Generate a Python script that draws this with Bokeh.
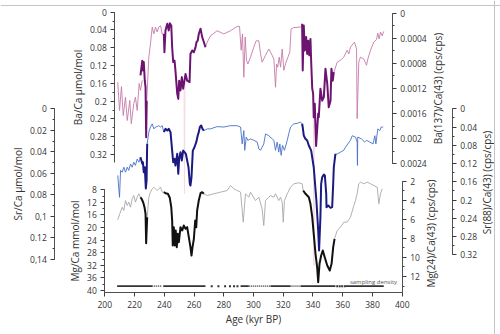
import math
from bokeh.plotting import figure
from bokeh.models import Range1d, LinearAxis, FixedTicker, Label, Span
from bokeh.embed import file_html
from bokeh.resources import INLINE

nan = float("nan")

# ---------------- data: (age kyr BP, value) ----------------
ba_cps_pts = [
    (208.7, 0.00110), (209.9, 0.00155), (211.2, 0.00117), (212.4, 0.00163), (213.9, 0.00134),
    (215.1, 0.00171), (216.8, 0.00139), (217.8, 0.00176), (219.5, 0.00144), (220.6, 0.00134),
    (221.8, 0.00155), (223.1, 0.00112), (224.0, 0.00123), (225.2, 0.00107),
    (nan, nan),
    (228.2, 0.00139), (229.6, 0.00070), (230.7, 0.00049), (231.9, 0.00022), (233.0, 0.00033),
    (234.1, 0.00022), (235.2, 0.00030), (236.3, 0.00022), (237.5, 0.00020), (238.6, 0.00033),
    (239.7, 0.00033),
    (nan, nan),
    (267.7, 0.00054), (268.9, 0.00046), (271.1, 0.00036), (275.6, 0.00028), (280.0, 0.00033),
    (284.5, 0.00028), (289.0, 0.00021), (290.6, 0.00021), (291.7, 0.00059), (292.6, 0.00033),
    (293.5, 0.00102), (294.4, 0.00038), (295.3, 0.00075), (296.2, 0.00081), (298.0, 0.00070),
    (300.2, 0.00054), (301.8, 0.00044), (303.6, 0.00044), (304.7, 0.00064), (305.8, 0.00078),
    (308.1, 0.00067), (310.3, 0.00057), (312.1, 0.00065), (313.7, 0.00073), (314.8, 0.00118),
    (315.5, 0.00081), (316.3, 0.00086), (317.3, 0.00070), (318.2, 0.00086), (319.3, 0.00057),
    (320.4, 0.00091), (321.5, 0.00081), (322.7, 0.00073), (324.4, 0.00062), (325.3, 0.00025),
    (327.1, 0.00023), (331.6, 0.00022), (332.7, 0.00021),
    (nan, nan),
    (354.0, 0.00094), (354.5, 0.00091), (356.3, 0.00078), (358.5, 0.00075), (360.7, 0.00070),
    (363.0, 0.00059), (364.1, 0.00065), (365.2, 0.00054), (367.9, 0.00046), (369.3, 0.00057),
    (369.7, 0.00168), (370.8, 0.00078), (371.9, 0.00070), (374.2, 0.00073), (376.0, 0.00083),
    (376.9, 0.00073), (378.7, 0.00059), (380.9, 0.00046), (382.7, 0.00042), (383.6, 0.00032),
    (384.5, 0.00041), (385.4, 0.00030), (386.5, 0.00036), (387.6, 0.00029),
]

ba_umol_pts = [
    (224.0, 0.142), (225.2, 0.109), (225.6, 0.131), (226.2, 0.112), (226.9, 0.154),
    (227.4, 0.169), (227.8, 0.281), (228.2, 0.199),
    (nan, nan),
    (239.7, 0.049), (240.1, 0.090), (240.8, 0.041), (242.0, 0.026), (243.0, 0.041),
    (243.7, 0.025), (244.7, 0.030), (245.3, 0.079), (246.0, 0.112), (246.9, 0.109),
    (247.5, 0.131), (248.7, 0.183), (249.4, 0.195), (250.0, 0.154), (250.9, 0.176),
    (251.8, 0.146), (252.7, 0.172), (254.3, 0.139), (255.4, 0.154), (257.0, 0.157),
    (257.6, 0.094), (258.8, 0.086), (259.9, 0.090), (261.0, 0.079), (261.7, 0.067),
    (262.5, 0.064), (263.2, 0.049), (264.4, 0.037), (265.5, 0.056), (266.6, 0.067),
    (267.7, 0.079),
    (nan, nan),
    (332.7, 0.026), (333.1, 0.131), (333.8, 0.030), (334.5, 0.086), (335.4, 0.056),
    (336.1, 0.094), (336.8, 0.064), (337.5, 0.097), (338.3, 0.060), (338.8, 0.112),
    (339.5, 0.172), (340.1, 0.183), (340.5, 0.236), (341.2, 0.206), (342.1, 0.301),
    (343.5, 0.228), (343.9, 0.236), (345.0, 0.172), (346.2, 0.199), (347.3, 0.191),
    (348.4, 0.127), (349.6, 0.161), (350.6, 0.214), (351.8, 0.199), (352.4, 0.127),
    (353.3, 0.154), (354.0, 0.135),
]

ba_faint_pts = [
    (253.3, 0.165), (253.6, 0.408), (253.9, 0.160),
    (nan, nan),
    (340.3, 0.225), (340.6, 0.570), (340.9, 0.230),
]

sr_cps_pts = [
    (208.7, 0.146), (209.9, 0.194), (210.6, 0.135), (211.7, 0.139), (212.8, 0.128),
    (213.9, 0.139), (215.1, 0.128), (216.1, 0.135), (217.3, 0.121), (218.4, 0.128),
    (219.5, 0.117), (220.6, 0.124), (221.8, 0.110), (222.9, 0.117), (224.0, 0.106),
    (nan, nan),
    (228.5, 0.077), (229.6, 0.051), (230.7, 0.040), (231.9, 0.033), (233.0, 0.044),
    (234.1, 0.040), (235.2, 0.039), (236.3, 0.037), (237.5, 0.040), (238.6, 0.037),
    (239.7, 0.051),
    (nan, nan),
    (266.6, 0.048), (268.9, 0.044), (271.1, 0.044), (275.6, 0.039), (280.0, 0.040),
    (284.5, 0.037), (289.0, 0.037), (291.3, 0.040), (292.4, 0.077), (293.5, 0.048),
    (294.1, 0.091), (295.1, 0.062), (296.2, 0.069), (298.0, 0.066), (300.2, 0.069),
    (302.5, 0.073), (303.6, 0.088), (304.7, 0.091), (306.9, 0.077), (308.1, 0.055),
    (310.3, 0.059), (312.6, 0.066), (313.7, 0.069), (314.8, 0.091), (315.9, 0.073),
    (317.0, 0.095), (317.7, 0.077), (318.6, 0.102), (319.5, 0.080), (320.8, 0.091),
    (322.7, 0.069), (323.7, 0.055), (324.9, 0.040), (327.1, 0.033), (329.4, 0.032),
    (331.6, 0.029), (332.7, 0.033),
    (nan, nan),
    (355.1, 0.099), (356.3, 0.099), (358.5, 0.095), (360.7, 0.091), (361.9, 0.084),
    (365.2, 0.069), (366.4, 0.059), (368.6, 0.062), (369.7, 0.073), (369.9, 0.124),
    (370.1, 0.062), (372.6, 0.066), (374.8, 0.073), (376.0, 0.069), (378.2, 0.073),
    (380.4, 0.077), (381.6, 0.059), (382.3, 0.077), (383.6, 0.044), (384.9, 0.048),
    (385.9, 0.040), (387.2, 0.040),
]

sr_umol_pts = [
    (224.0, 0.0450), (225.2, 0.0511), (225.6, 0.0496), (226.2, 0.0589), (226.9, 0.0543),
    (227.6, 0.0740), (228.1, 0.0666), (228.5, 0.0325),
    (nan, nan),
    (239.7, 0.0217), (240.8, 0.0186), (242.0, 0.0202), (243.0, 0.0186), (244.2, 0.0217),
    (245.3, 0.0388), (246.0, 0.0496), (246.9, 0.0465), (247.5, 0.0527), (248.7, 0.0418),
    (249.4, 0.0604), (250.0, 0.0465), (250.9, 0.0403), (251.8, 0.0480), (252.7, 0.0388),
    (253.6, 0.0403), (254.5, 0.0418), (255.4, 0.0480), (256.3, 0.0543), (257.2, 0.0697),
    (257.6, 0.0713), (258.3, 0.0636), (259.2, 0.0388), (260.3, 0.0357), (261.5, 0.0310),
    (262.5, 0.0248), (263.2, 0.0217), (263.9, 0.0171), (264.8, 0.0155), (265.7, 0.0186),
    (266.6, 0.0202),
    (nan, nan),
    (332.7, 0.0139), (333.1, 0.0171), (333.8, 0.0248), (334.9, 0.0279), (336.1, 0.0295),
    (337.2, 0.0341), (338.8, 0.0388), (340.5, 0.0543), (342.3, 0.0852), (343.5, 0.1131),
    (344.1, 0.1317), (345.0, 0.1007), (345.5, 0.0697), (346.2, 0.0636), (347.3, 0.0611),
    (348.0, 0.0620), (348.9, 0.0790), (349.1, 0.0914), (350.3, 0.0899), (351.8, 0.0920),
    (352.9, 0.0914), (353.6, 0.0697), (354.0, 0.0543), (355.1, 0.0418),
]

mg_cps_pts = [
    (208.7, 6.05), (210.1, 5.42), (211.7, 4.73), (212.8, 5.07), (213.9, 4.03),
    (215.1, 4.55), (216.1, 4.20), (217.3, 4.73), (218.4, 3.85), (219.5, 3.50),
    (220.6, 4.20), (221.8, 3.68), (222.9, 3.32), (224.0, 3.68),
    (nan, nan),
    (228.5, 5.78), (229.6, 3.68), (230.7, 3.15), (231.9, 2.80), (233.0, 2.63),
    (235.2, 2.98), (237.5, 2.63), (238.6, 3.15), (239.7, 3.15),
    (nan, nan),
    (266.6, 3.32), (268.9, 3.50), (273.3, 3.32), (277.8, 3.15), (282.3, 2.98),
    (284.5, 2.45), (286.8, 2.80), (291.3, 3.15), (293.1, 6.30), (294.6, 3.32),
    (296.8, 3.68), (298.0, 3.15), (301.3, 4.03), (303.6, 3.68), (305.8, 4.90),
    (306.9, 6.65), (308.1, 4.03), (310.3, 3.68), (311.4, 3.50), (313.7, 3.68),
    (314.8, 3.32), (317.0, 4.03), (318.2, 3.68), (319.3, 4.20), (320.0, 6.30),
    (320.8, 4.03), (322.7, 3.32), (324.9, 2.63), (327.1, 2.27), (330.5, 2.17),
    (332.7, 2.27), (333.4, 2.95),
    (nan, nan),
    (354.5, 8.04), (356.3, 7.17), (358.5, 6.83), (360.7, 6.30), (363.0, 6.30),
    (365.2, 5.78), (367.5, 4.55), (368.6, 4.03), (369.7, 3.32), (370.8, 2.27),
    (371.9, 2.10), (374.2, 2.27), (376.4, 2.10), (378.7, 2.27), (380.9, 2.45),
    (383.2, 2.63), (384.3, 4.37), (385.4, 3.32), (386.5, 2.80),
]

mg_mmol_pts = [
    (224.0, 10.35), (224.7, 10.86), (225.8, 11.94), (226.7, 13.53), (227.4, 15.63),
    (227.8, 24.97), (228.5, 16.71),
    (nan, nan),
    (239.7, 8.76), (240.8, 9.08), (242.4, 9.27), (243.7, 10.54), (244.7, 13.53),
    (245.3, 17.76), (245.7, 25.70), (246.4, 19.88), (247.1, 25.70), (247.7, 20.93),
    (248.4, 26.24), (249.1, 21.98), (249.8, 24.65), (250.9, 19.88), (252.1, 20.93),
    (253.1, 19.34), (254.3, 20.39), (255.4, 19.88), (256.5, 23.06), (257.6, 26.24),
    (258.3, 28.88), (259.0, 26.24), (259.9, 23.57), (260.8, 17.76), (261.5, 19.88),
    (262.1, 14.58), (263.2, 11.40), (264.4, 9.08), (265.5, 8.76), (266.6, 9.27),
    (nan, nan),
    (333.4, 8.22), (335.0, 9.27), (337.2, 10.35), (338.3, 12.45), (339.5, 16.71),
    (340.5, 21.98), (341.7, 28.34), (342.8, 32.60), (343.5, 37.36), (344.4, 31.51),
    (345.5, 28.88), (346.6, 27.29), (347.9, 29.42), (349.6, 32.05), (351.3, 33.64),
    (352.5, 31.51), (353.6, 26.24), (354.5, 23.57),
]

# sampling density (age intervals / single samples)
dense_start = [208.3, 239.3, 291.3, 311.4, 331.6, 361.9]
dense_end = [231.9, 267.7, 296.8, 324.9, 355.1, 387.6]
medium_start = [231.9, 296.8, 324.9]
medium_end = [238.6, 311.4, 331.6]
sparse_ages = [271.9, 276.4, 280.9, 284.2, 286.9, 289.2, 356.3, 358.0, 359.6, 361.4]

# ticks and tick labels
age_ticks = [200, 220, 240, 260, 280, 300, 320, 340, 360, 380, 400]
age_labels = ["200", "220", "240", "260", "280", "300", "320", "340", "360", "380", "400"]
ba_umol_ticks = [0, 0.04, 0.08, 0.12, 0.16, 0.2, 0.24, 0.28, 0.32]
ba_umol_labels = ["0", "0.04", "0.08", "0.12", "0.16", "0.2", "0.24", "0.28", "0.32"]
sr_umol_ticks = [0, 0.02, 0.04, 0.06, 0.08, 0.1, 0.12, 0.14]
sr_umol_labels = ["0", "0.02", "0.04", "0.06", "0.08", "0,1", "0.12", "0,14"]
mg_mmol_ticks = [8, 12, 16, 20, 24, 28, 32, 36, 40]
mg_mmol_labels = ["8", "12", "16", "20", "24", "28", "32", "36", "40"]
ba_cps_ticks = [0, 0.0004, 0.0008, 0.0012, 0.0016, 0.002, 0.0024]
ba_cps_labels = ["0", "0.0004", "0.0008", "0.0012", "0.0016", "0.002", "0.0024"]
sr_cps_ticks = [0, 0.04, 0.08, 0.12, 0.16, 0.2, 0.24, 0.28, 0.32]
sr_cps_labels = ["0", "0.04", "0.08", "0.12", "0.16", "0.2", "0.24", "0.28", "0.32"]
mg_cps_ticks = [2, 4, 6, 8, 10, 12]
mg_cps_labels = ["2", "4", "6", "8", "10", "12"]

# ---------------- layout (page pixels) ----------------
W, H = 500, 334
OX, OY = 0, 0
FONT = "Open Sans"
TXT = "#333333"
AX = "#3c3c3c"


def lin(v1, p1, v2, p2):
    k = (p2 - p1) / (v2 - v1)
    return lambda px: v1 + (px - p1) / k


age_of = lin(200, 104.3, 400, 401.7)
mg_mmol_of = lin(8, 189.3, 40, 290.0)
ba_umol_of = lin(0, 11.7, 0.32, 154.0)
sr_umol_of = lin(0, 108.3, 0.14, 259.0)
ba_cps_of = lin(0, 12.7, 0.0024, 163.3)
sr_cps_of = lin(0, 108.3, 0.32, 254.3)
mg_cps_of = lin(2, 180.7, 12, 276.0)


def yrange(f):
    return Range1d(start=f(OY + H), end=f(OY))


p = figure(width=W, height=H, output_backend="svg", toolbar_location=None,
           x_range=Range1d(age_of(OX), age_of(OX + W)), y_range=yrange(mg_mmol_of),
           x_axis_type=None, y_axis_type=None, min_border=0,
           outline_line_color=None, background_fill_color="white",
           border_fill_color="white")
p.xgrid.grid_line_color = None
p.ygrid.grid_line_color = None
p.extra_y_ranges = {
    "ba_umol": yrange(ba_umol_of),
    "sr_umol": yrange(sr_umol_of),
    "ba_cps": yrange(ba_cps_of),
    "sr_cps": yrange(sr_cps_of),
    "mg_cps": yrange(mg_cps_of),
}


def draw(pts, rname, color, width):
    xs = [a for a, v in pts]
    ys = [v for a, v in pts]
    p.line(xs, ys, y_range_name=rname, line_color=color, line_width=width,
           line_join="round")


draw(ba_faint_pts, "ba_umol", "#f5d9e4", 1.0)
draw(ba_cps_pts, "ba_cps", "#c67ba8", 0.9)
draw(sr_cps_pts, "sr_cps", "#4670c8", 0.9)
draw(mg_cps_pts, "mg_cps", "#a8a8a8", 0.9)
draw(ba_umol_pts, "ba_umol", "#6c1470", 2.0)
draw(sr_umol_pts, "sr_umol", "#1a1a80", 2.0)
draw(mg_mmol_pts, "default", "#111111", 2.0)

# sampling density bar
ys = mg_mmol_of(285.7)
p.segment(x0=dense_start, x1=dense_end, y0=[ys] * len(dense_start), y1=[ys] * len(dense_start),
          line_color="#333333", line_width=1.8)
p.segment(x0=medium_start, x1=medium_end, y0=[ys] * len(medium_start), y1=[ys] * len(medium_start),
          line_color="#555555", line_width=1.8, line_dash="1 1")
p.scatter(x=sparse_ages, y=[ys] * len(sparse_ages), marker="square", size=2,
          line_color=None, fill_color="#333333")
p.add_layout(Label(x=age_of(373), y=mg_mmol_of(281.5), text="sampling density",
                   text_font=FONT, text_font_size="6px", text_color="#555555",
                   text_align="center", text_baseline="middle"))


def style(ax, title_size="10px"):
    ax.axis_line_color = AX
    ax.axis_line_width = 0.9
    ax.major_tick_line_color = AX
    ax.minor_tick_line_color = AX
    ax.major_tick_out = 4
    ax.major_tick_in = 0
    ax.minor_tick_out = 2
    ax.minor_tick_in = 0
    ax.major_label_text_font = FONT
    ax.major_label_text_font_size = "8.5px"
    ax.major_label_text_color = TXT
    ax.major_label_standoff = 4
    ax.axis_label_text_font = FONT
    ax.axis_label_text_font_size = title_size
    ax.axis_label_text_font_style = "normal"
    ax.axis_label_text_color = TXT
    ax.axis_label_standoff = 2


def vaxis(side, rname, loc_px, ticks, labels, minors, bounds, title=None):
    ax = LinearAxis(y_range_name=rname, fixed_location=age_of(loc_px), bounds=bounds,
                    ticker=FixedTicker(ticks=ticks, minor_ticks=minors))
    ax.major_label_overrides = dict(zip(ticks, labels))
    if title:
        ax.axis_label = title
    style(ax)
    p.add_layout(ax, side)
    return ax


vaxis("left", "sr_umol", 54.3, sr_umol_ticks, sr_umol_labels,
      [0.01 * i for i in range(15)], (0, 0.14), "Sr/Ca µmol/mol")
vaxis("left", "default", 104.3, mg_mmol_ticks, mg_mmol_labels,
      [8 + 2 * i for i in range(17)], (8, mg_mmol_of(291.7)), "Mg/Ca mmol/mol")
vaxis("left", "ba_umol", 114.3, ba_umol_ticks, ba_umol_labels,
      [0.02 * i for i in range(17)], (0, ba_umol_of(162)), "Ba/Ca µmol/mol")
vaxis("right", "ba_cps", 391.7, ba_cps_ticks, ba_cps_labels,
      [0.0002 * i for i in range(13)], (0, 0.0024))
vaxis("right", "mg_cps", 401.7, mg_cps_ticks, mg_cps_labels,
      [2 + i for i in range(12)], (2, mg_cps_of(291.7)))
vaxis("right", "sr_cps", 451.7, sr_cps_ticks, sr_cps_labels,
      [0.02 * i for i in range(17)], (0, 0.32))

xax = LinearAxis(fixed_location=mg_mmol_of(291.7), bounds=(200, 400),
                 ticker=FixedTicker(ticks=age_ticks, minor_ticks=[]),
                 axis_label="Age (kyr BP)")
xax.major_label_overrides = dict(zip(age_ticks, age_labels))
style(xax)
xax.major_label_standoff = 5
xax.axis_label_standoff = 0
p.add_layout(xax, "below")

# right-hand axis titles (reading bottom-to-top)
for text, px, py in [("Ba(137)/Ca(43) (cps/cps)", 437.5, 88),
                     ("Mg(24)/Ca(43) (cps/cps)", 430.5, 233),
                     ("Sr(88)/Ca(43) (cps/cps)", 486.0, 182)]:
    p.add_layout(Label(x=age_of(px), y=mg_mmol_of(py), text=text, angle=math.pi / 2,
                       text_font=FONT, text_font_size="10px", text_color=TXT,
                       text_align="center", text_baseline="middle"))

# frame lines of the original figure
p.add_layout(Span(location=mg_mmol_of(5), dimension="width",
                  line_color="#c4c4c4", line_width=1))
p.add_layout(Span(location=age_of(494), dimension="height",
                  line_color="#c4c4c4", line_width=1))

open("out.html", "w").write(file_html(p, INLINE))
